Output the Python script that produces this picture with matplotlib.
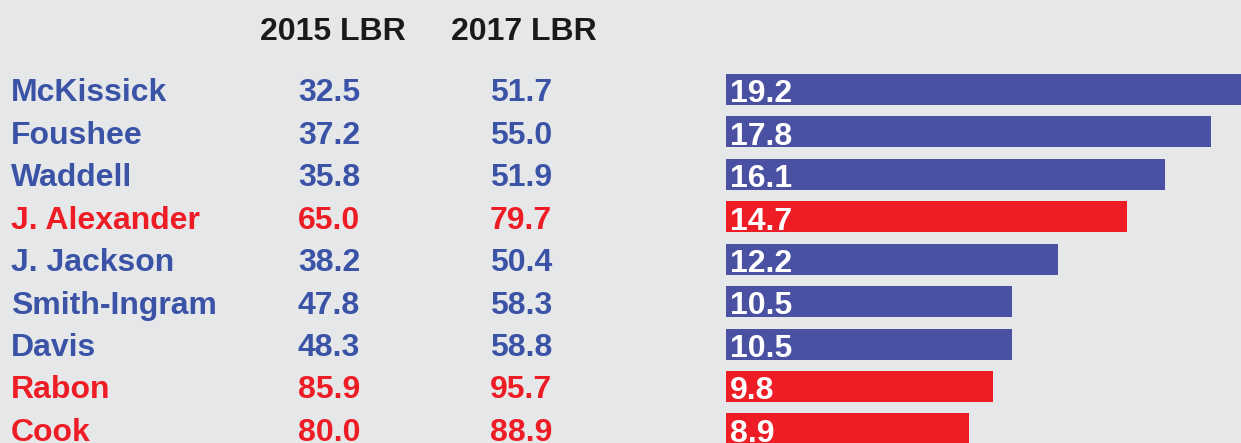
"""
Table of 2015 / 2017 LBR scores with a bar for the change, one row per legislator.
"""

import matplotlib.pyplot as plt

#####################################
# Data
#####################################

names = ["McKissick", "Foushee", "Waddell", "J. Alexander", "J. Jackson",
         "Smith-Ingram", "Davis", "Rabon", "Cook"]
lbr_2015 = [32.5, 37.2, 35.8, 65.0, 38.2, 47.8, 48.3, 85.9, 80.0]
lbr_2017 = [51.7, 55.0, 51.9, 79.7, 50.4, 58.3, 58.8, 95.7, 88.9]
change = [19.2, 17.8, 16.1, 14.7, 12.2, 10.5, 10.5, 9.8, 8.9]
party = ["D", "D", "D", "R", "D", "D", "D", "R", "R"]
headers = ["2015 LBR", "2017 LBR"]

#####################################
# Style
#####################################

BG = "#e6e7e9"
TEXT_COLORS = {"D": "#3a53a6", "R": "#ee1d25"}
BAR_COLORS = {"D": "#4a51a2", "R": "#ee1d25"}
FONT = "Liberation Sans"
FS = 23

W, H = 1241, 443
PX_PER_UNIT = 27.25      # bar length scale in pixels per point
BAR_X0 = 726             # pixel where bars start
ROW0 = 89.5              # pixel centre of first row
ROW_STEP = 42.43         # pixels between rows

fig = plt.figure(figsize=(W / 100, H / 100), dpi=100, facecolor=BG)
ax = fig.add_axes([0, 0, 1, 1])
ax.set_facecolor(BG)
ax.set_xlim(-BAR_X0 / PX_PER_UNIT, (W - BAR_X0) / PX_PER_UNIT)
ax.set_ylim((H - ROW0) / ROW_STEP, -ROW0 / ROW_STEP)
ax.axis("off")

rows = list(range(len(names)))
ax.barh(rows, change, height=0.73, left=0,
        color=[BAR_COLORS[p] for p in party])


def px_x(px):
    return (px - BAR_X0) / PX_PER_UNIT


base = 0.28  # baseline offset so cap height sits centred on the row
for i in rows:
    c = TEXT_COLORS[party[i]]
    ax.text(px_x(11), i + base, names[i], color=c, fontsize=FS,
            fontweight="bold", family=FONT, ha="left", va="baseline")
    ax.text(px_x(329), i + base, f"{lbr_2015[i]:.1f}", color=c, fontsize=FS,
            fontweight="bold", family=FONT, ha="center", va="baseline")
    ax.text(px_x(521), i + base, f"{lbr_2017[i]:.1f}", color=c, fontsize=FS,
            fontweight="bold", family=FONT, ha="center", va="baseline")
    ax.text(0.15, i + base + 0.02, f"{change[i]:.1f}", color="white",
            fontsize=FS, fontweight="bold", family=FONT, ha="left",
            va="baseline")

for hx, label in zip([333, 524], headers):
    ax.text(px_x(hx), (40 - ROW0) / ROW_STEP, label, color="#1a1a1a",
            fontsize=FS, fontweight="bold", family=FONT, ha="center",
            va="baseline")

fig.savefig("out.png", dpi=100, facecolor=BG)
